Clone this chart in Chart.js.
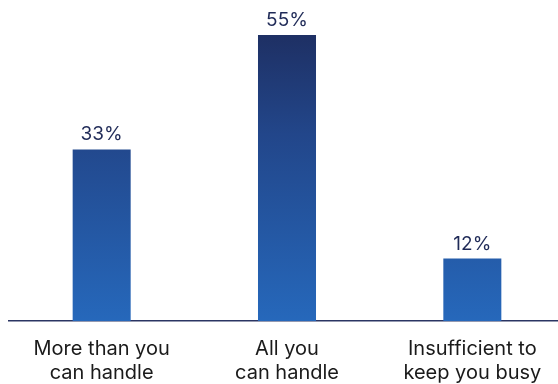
<!DOCTYPE html>
<html>
<head>
<meta charset="utf-8">
<script src="https://cdn.jsdelivr.net/npm/chart.js@4"></script>
<style>
  html, body { margin: 0; padding: 0; background: #fff; overflow: hidden; }
  #wrap { width: 565px; height: 384px; }
</style>
</head>
<body>
<div id="wrap"><canvas id="workloadChart"></canvas></div>
<script>
const categories = [
    ['More than you', 'can handle'],
    ['All you', 'can handle'],
    ['Insufficient to', 'keep you busy']
];
const shares = [33, 55, 12];

// bars share one vertical gradient over the plot area
function barGradient(context) {
    const chart = context.chart;
    const area = chart.chartArea;
    if (!area) return '#2666b8';
    const g = chart.ctx.createLinearGradient(0, area.top, 0, area.bottom);
    g.addColorStop(0, '#1d2a5a');
    g.addColorStop(0.4, '#22468a');
    g.addColorStop(1, '#2668bb');
    return g;
}

// percentage above each bar
const valueLabels = {
    id: 'valueLabels',
    afterDatasetsDraw(chart) {
        const ctx = chart.ctx;
        const meta = chart.getDatasetMeta(0);
        ctx.save();
        ctx.font = '19px Inter';
        ctx.fillStyle = '#1f2a57';
        ctx.textAlign = 'center';
        ctx.textBaseline = 'alphabetic';
        meta.data.forEach((bar, i) => {
            ctx.fillText(shares[i] + '%', bar.x, bar.y - 9);
        });
        ctx.restore();
    }
};

const ctx = document.getElementById('workloadChart').getContext('2d');
new Chart(ctx, {
    type: 'bar',
    data: {
        labels: categories,
        datasets: [{
            data: shares,
            backgroundColor: barGradient,
            borderWidth: 0,
            categoryPercentage: 1,
            barPercentage: 0.313
        }]
    },
    options: {
        responsive: true,
        maintainAspectRatio: false,
        animation: false,
        layout: { padding: { left: 9, right: 0, top: 9, bottom: 0 } },
        plugins: {
            legend: { display: false },
            tooltip: { enabled: false }
        },
        scales: {
            x: {
                afterFit(scale) { scale.height = 63; },
                grid: { display: false, drawTicks: false },
                border: { display: true, color: '#2b3563', width: 1.5 },
                ticks: {
                    color: '#1a1a1a',
                    font: { family: 'Inter', size: 20, lineHeight: 1.2 },
                    padding: 16,
                    maxRotation: 0
                }
            },
            y: {
                display: false,
                min: 0,
                max: 60
            }
        }
    },
    plugins: [valueLabels]
});
</script>
</body>
</html>
